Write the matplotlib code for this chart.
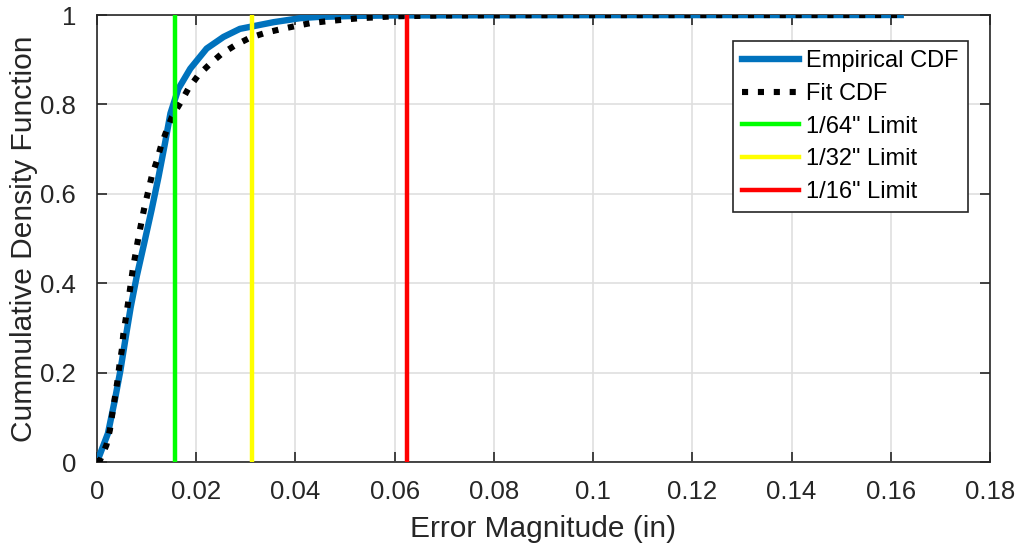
import numpy as np
import matplotlib
matplotlib.use("Agg")
import matplotlib.pyplot as plt

# values
emp_x = [0.0, 0.0022, 0.0036, 0.0047, 0.0058, 0.0068, 0.0080, 0.0095, 0.0110,
         0.0124, 0.0137, 0.0148, 0.0164, 0.0188, 0.0221, 0.0255, 0.0288,
         0.0356, 0.0410, 0.0443, 0.0520, 0.0600, 0.0800, 0.1100, 0.1620]
emp_y = [0.0, 0.064, 0.139, 0.204, 0.280, 0.347, 0.415, 0.489, 0.564,
         0.638, 0.713, 0.780, 0.835, 0.880, 0.925, 0.951, 0.969,
         0.984, 0.993, 0.9955, 0.998, 0.999, 0.9995, 0.9998, 1.0]

fit_x = [0.0, 0.0006, 0.0019, 0.0026, 0.0031, 0.0036, 0.0041, 0.0045, 0.0050,
         0.0053, 0.0058, 0.0063, 0.0072, 0.0083, 0.0095, 0.0110, 0.0120,
         0.0129, 0.0140, 0.0151, 0.0171, 0.0184, 0.0204, 0.0228, 0.0251,
         0.0278, 0.0308, 0.0339, 0.0369, 0.0399, 0.0431, 0.0463, 0.0496,
         0.0530, 0.0564, 0.0594, 0.0700, 0.0900, 0.1620]
fit_y = [0.0, 0.004, 0.038, 0.072, 0.109, 0.144, 0.180, 0.215, 0.251,
         0.286, 0.321, 0.359, 0.430, 0.500, 0.567, 0.638, 0.672,
         0.707, 0.741, 0.772, 0.809, 0.835, 0.865, 0.891, 0.913,
         0.932, 0.949, 0.960, 0.968, 0.975, 0.982, 0.986, 0.9895,
         0.993, 0.9948, 0.997, 0.999, 0.9997, 1.0]

limits = [1 / 64, 1 / 32, 1 / 16]
limit_labels = ['1/64" Limit', '1/32" Limit', '1/16" Limit']
limit_colors = ['#00FF00', '#FFFF00', '#FF0000']

x_ticks = np.arange(0, 0.1801, 0.02)
x_tick_labels = ['0', '0.02', '0.04', '0.06', '0.08', '0.1', '0.12', '0.14', '0.16', '0.18']
y_ticks = np.arange(0, 1.01, 0.2)
y_tick_labels = ['0', '0.2', '0.4', '0.6', '0.8', '1']

plt.rcParams['font.family'] = ['Liberation Sans', 'DejaVu Sans']
txt = '#262626'

fig = plt.figure(figsize=(10.18, 5.46), dpi=100)
ax = fig.add_axes([0.0953, 0.1538, 0.8772, 0.8187])

ax.plot(emp_x, emp_y, color='#0072BD', lw=4.6, label='Empirical CDF', zorder=3,
        solid_joinstyle='round')
ax.plot(fit_x, fit_y, color='k', lw=4.4, linestyle=(0, (1, 1.6)), label='Fit CDF', zorder=4)
for xv, lab, col in zip(limits, limit_labels, limit_colors):
    ax.plot([xv, xv], [0, 1], color=col, lw=3.2, label=lab, zorder=5)

ax.set_xlim(0, 0.18)
ax.set_ylim(0, 1)
ax.set_xticks(x_ticks)
ax.set_xticklabels(x_tick_labels)
ax.set_yticks(y_ticks)
ax.set_yticklabels(y_tick_labels)
ax.tick_params(direction='in', top=True, right=True, labelsize=18.5, length=7,
               width=1.2, colors=txt)
ax.tick_params(axis='x', pad=13)
ax.tick_params(axis='y', pad=15)
ax.grid(True, color='#DFDFDF', lw=1.2)
ax.set_axisbelow(True)
for s in ax.spines.values():
    s.set_color(txt)
    s.set_linewidth(1.2)

ax.set_xlabel('Error Magnitude (in)', fontsize=21.5, color=txt, labelpad=8)
ax.set_ylabel('Cummulative Density Function', fontsize=21.5, color=txt, labelpad=2)

leg = ax.legend(loc='upper right', bbox_to_anchor=(0.975, 0.942), fontsize=17,
                fancybox=False, framealpha=1, edgecolor=txt,
                handlelength=2.4, borderpad=0.4, labelspacing=0.45, handletextpad=0.3,
                borderaxespad=0)
leg.get_frame().set_linewidth(1.2)

fig.savefig('out.png', dpi=100)
